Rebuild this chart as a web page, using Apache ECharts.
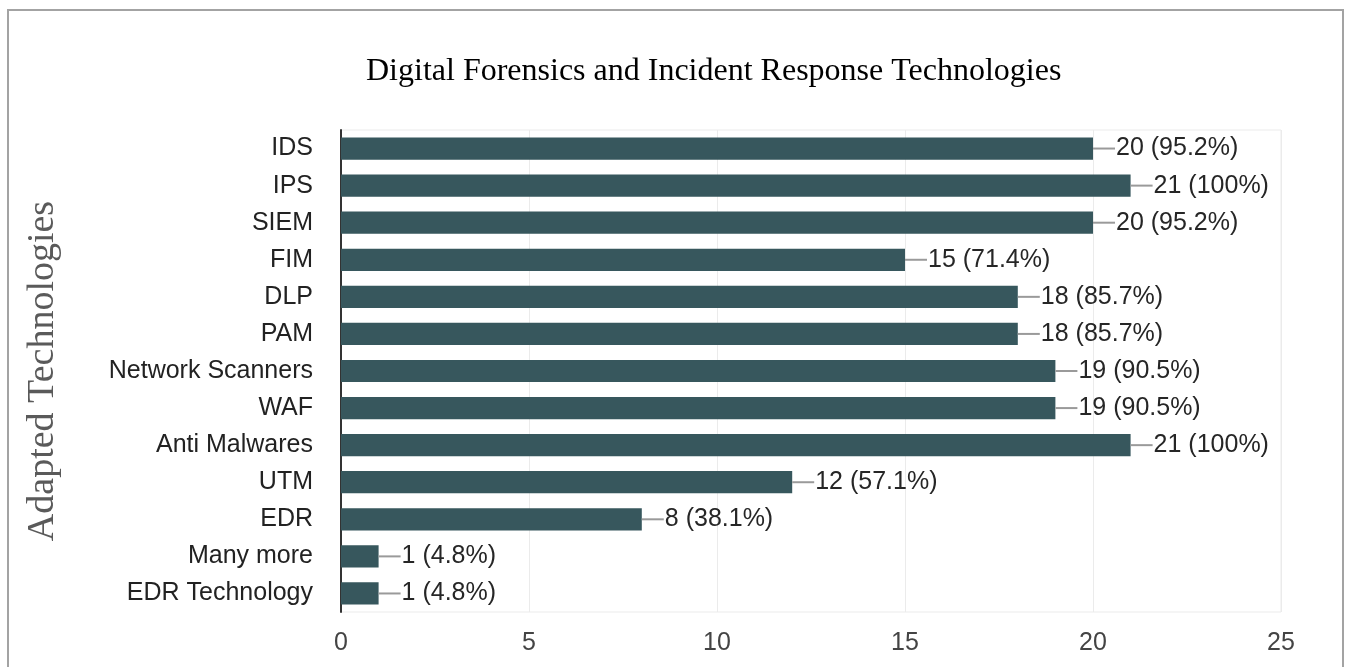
<!DOCTYPE html>
<html>
<head>
<meta charset="utf-8">
<title>Digital Forensics and Incident Response Technologies</title>
<script src="https://cdn.jsdelivr.net/npm/echarts@6/dist/echarts.min.js"></script>
<style>
  html, body { margin: 0; padding: 0; background: #fff; }
  #chart { width: 1350px; height: 667px; }
</style>
</head>
<body>
<div id="chart"></div>
<script>
// Technologies listed top to bottom
const categories = [
  'IDS', 'IPS', 'SIEM', 'FIM', 'DLP', 'PAM', 'Network Scanners',
  'WAF', 'Anti Malwares', 'UTM', 'EDR', 'Many more', 'EDR Technology'
];
// Number of respondents using each technology
const counts = [20, 21, 20, 15, 18, 18, 19, 19, 21, 12, 8, 1, 1];
// Share of respondents, as printed next to each bar
const percents = ['95.2%', '100%', '95.2%', '71.4%', '85.7%', '85.7%', '90.5%',
  '90.5%', '100%', '57.1%', '38.1%', '4.8%', '4.8%'];
// Value axis ticks
const xTicks = { min: 0, max: 25, interval: 5 };

const sans = 'Arial, "Liberation Sans", sans-serif';
const serif = '"Times New Roman", "Liberation Serif", serif';

const chart = echarts.init(document.getElementById('chart'), null, { renderer: 'canvas' });

chart.setOption({
  animation: false,
  backgroundColor: '#ffffff',
  title: {
    text: 'Digital Forensics and Incident Response Technologies',
    left: 361,
    top: 51,
    textStyle: { fontFamily: serif, fontSize: 32, fontWeight: 'normal', color: '#000' }
  },
  graphic: [{
    type: 'rect',
    shape: { x: 8, y: 10, width: 1335, height: 700 },
    style: { fill: 'none', stroke: '#a3a3a3', lineWidth: 2 },
    silent: true
  }],
  grid: {
    left: 341, right: 69, top: 130, bottom: 55,
    show: true, borderColor: '#ebebeb', borderWidth: 1
  },
  xAxis: {
    type: 'value',
    min: xTicks.min, max: xTicks.max, interval: xTicks.interval,
    axisLine: { show: false },
    axisTick: { show: false },
    splitLine: { show: true, lineStyle: { color: '#ebebeb', width: 1 } },
    axisLabel: { fontFamily: sans, fontSize: 25, color: '#444', margin: 19 }
  },
  yAxis: {
    type: 'category',
    data: categories,
    inverse: true,
    name: 'Adapted Technologies',
    nameLocation: 'middle',
    nameRotate: 90,
    nameGap: 279,
    nameTextStyle: { fontFamily: serif, fontSize: 38, color: '#5a5a5a' },
    axisLine: { show: true, lineStyle: { color: '#333', width: 2 } },
    axisTick: { show: false },
    axisLabel: { fontFamily: sans, fontSize: 25, color: '#222', margin: 28 }
  },
  series: [{
    type: 'bar',
    data: counts,
    barWidth: '60%',
    itemStyle: { color: '#37575d' },
    label: {
      show: true,
      position: 'right',
      distance: 0,
      formatter: p => '{l| }{v|' + counts[p.dataIndex] + ' (' + percents[p.dataIndex] + ')}',
      rich: {
        l: { width: 22, height: 2, backgroundColor: '#9a9a9a', verticalAlign: 'middle' },
        v: { fontFamily: sans, fontSize: 25, color: '#262626', padding: [0, 0, 0, 1] }
      }
    }
  }]
});
</script>
</body>
</html>
